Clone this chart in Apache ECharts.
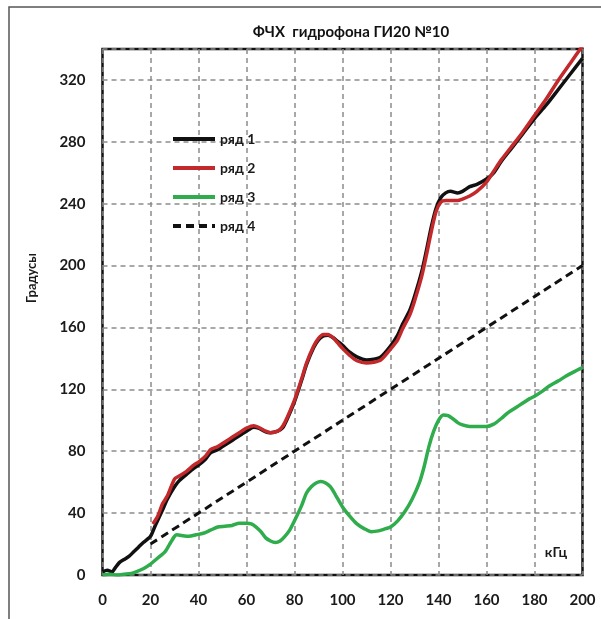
<!DOCTYPE html>
<html>
<head>
<meta charset="utf-8">
<script src="https://cdn.jsdelivr.net/npm/echarts@6/dist/echarts.min.js"></script>
<style>
  html, body { margin:0; padding:0; background:#fff; }
  #chart { width:601px; height:619px; }
</style>
</head>
<body>
<div id="chart"></div>
<script>
// ряд 1 (black)
var row1 = [[0,2],[2,3],[4,2],[5,4],[7,8],[9,10],[11,12],[13,15],[15,18],[17,21],[20,25],[22,32],[25,42],[27,49],[30,57],[32,61],[35,65],[38,69],[40,71],[43,75],[45,79],[48,81],[50,83],[53,86],[55,88],[58,91],[60,93],[63,95.5],[65,95],[68,92.5],[70,92],[73,93],[75,95],[77,101],[80,112],[83,126],[85,136],[88,147],[90,152],[92,154.5],[94,155],[96,153.5],[98,151],[100,148.5],[103,144],[106,141],[110,139],[113,139.5],[116,141],[120,148],[123,155],[125,162],[128,171],[130,180],[133,196],[135,210],[137,225],[139,237],[141,244],[143,247],[145,248],[148,247],[150,248],[153,251],[156,252.5],[160,256],[163,260],[166,267],[170,275],[175,285],[180,295],[185,304],[190,314],[195,324],[200,334]];
// ряд 2 (red)
var row2 = [[21,33],[23,38],[25,46],[27,51],[30,62],[32,64],[35,67],[38,71],[40,73],[43,77],[45,81],[48,83],[50,85],[53,88],[55,90],[58,93],[60,95],[63,96.5],[65,95.5],[68,93],[70,92],[73,93],[75,96],[77,102],[80,113],[83,127],[85,137],[88,148],[90,153],[92,155.5],[94,155.5],[96,153.5],[98,150],[100,146.5],[103,142],[106,138.5],[110,137],[113,137.5],[116,139],[120,146],[123,152],[125,159],[128,168],[130,177],[133,193],[135,207],[137,222],[139,235],[141,241],[143,242],[145,242],[148,242],[150,243],[153,245],[156,248],[160,254],[163,261],[166,268],[170,276],[175,286],[180,297],[185,308],[190,320],[195,331],[200,342]];
// ряд 3 (green)
var row3 = [[0,0],[3,0.5],[6,0],[9,0.5],[12,1],[14,2],[17,4],[20,7],[23,11],[26,15],[28,20],[30,25],[31,26],[33,25.5],[36,25],[39,26],[42,27],[45,29],[48,31],[51,31.5],[54,32],[57,33.5],[60,33.5],[62,33],[64,31],[66,28],[68,24],[70,22],[72,21],[74,22],[76,25],[78,29],[80,35],[83,45],[85,53],[87,57],[89,59.5],[91,60.5],[93,59.5],[95,57],[97,52],[100,44],[103,38],[106,33],[109,30],[112,28],[115,28.5],[118,30],[120,31],[123,35],[126,41],[129,49],[132,59.5],[134,70],[136,83],[138,93],[140,100],[142,103.5],[144,103],[146,101],[148,98.5],[150,97],[153,96],[157,96],[160,96],[163,97.5],[166,101],[169,105],[172,108],[175,111],[178,114],[180,115.5],[183,118.5],[186,122],[190,125.5],[193,128.5],[196,131],[200,134]];
// ряд 4 (dashed)
var row4 = [[20,20],[200,200]];

var seriesNames = ['ряд 1', 'ряд 2', 'ряд 3', 'ряд 4'];
var titleText = 'ФЧХ  гидрофона ГИ20 №10';
var yName = 'Градусы';
var xName = 'кГц';

var font = 'Lato, "Liberation Sans", sans-serif';
var chart = echarts.init(document.getElementById('chart'), null, {renderer:'canvas'});

function line(name, data, color, width, type) {
  return {
    name: name, type: 'line', data: data, showSymbol: false, symbol: 'none',
    smooth: 0.25, animation: false,
    lineStyle: {color: color, width: width, type: type || 'solid'},
    itemStyle: {color: color}
  };
}

chart.setOption({
  animation: false,
  backgroundColor: '#fff',
  title: {
    text: titleText, left: 346, top: 20, textAlign: 'center',
    textStyle: {fontFamily: font, fontWeight: 'bold', fontSize: 15, color: '#111'}
  },
  legend: {
    data: seriesNames, orient: 'vertical', left: 166, top: 127,
    itemWidth: 42, itemHeight: 14, itemGap: 15,
    itemStyle: {opacity: 0},
    lineStyle: {width: 4},
    textStyle: {fontFamily: font, fontWeight: 'bold', fontSize: 14, color: '#1a1a1a'}
  },
  grid: {left: 102.5, right: 18.5, top: 49, bottom: 44, show: true,
    borderColor: '#111', borderWidth: 2.5, outerBoundsMode: 'none', containLabel: false},
  xAxis: {
    type: 'value', min: 0, max: 200, interval: 20,
    axisLine: {show: false}, axisTick: {show: false},
    axisLabel: {margin: 18, fontFamily: font, fontWeight: 'bold', fontSize: 15, color: '#1a1a1a'},
    splitLine: {show: true, lineStyle: {color: '#8c8c8c', width: 1.5, type: [5, 4]}}
  },
  yAxis: {
    type: 'value', min: 0, max: 340, interval: 40,
    axisLine: {show: false}, axisTick: {show: false},
    axisLabel: {margin: 17, fontFamily: font, fontWeight: 'bold', fontSize: 15, color: '#1a1a1a',
      showMaxLabel: false, formatter: function (v) { return v > 320 ? '' : v; }},
    splitLine: {show: true, lineStyle: {color: '#8c8c8c', width: 1.5, type: [5, 4]}}
  },
  graphic: [
    {type: 'rect', shape: {x: 9, y: 7, width: 700, height: 700},
      style: {fill: 'none', stroke: '#555', lineWidth: 1.5}, silent: true},
    {type: 'text', x: 32, y: 278, rotation: Math.PI / 2,
      style: {text: yName, font: 'bold 13px ' + font, fill: '#1a1a1a', align: 'center', verticalAlign: 'middle'}},
    {type: 'text', x: 556, y: 552,
      style: {text: xName, font: 'bold 14px ' + font, fill: '#1a1a1a', align: 'center', verticalAlign: 'middle'}}
  ],
  series: [
    line(seriesNames[0], row1, '#111111', 3.5),
    line(seriesNames[1], row2, '#c3282b', 3.5),
    line(seriesNames[2], row3, '#2fac4b', 3.5),
    line(seriesNames[3], row4, '#111111', 3, [8, 5])
  ]
});
</script>
</body>
</html>
